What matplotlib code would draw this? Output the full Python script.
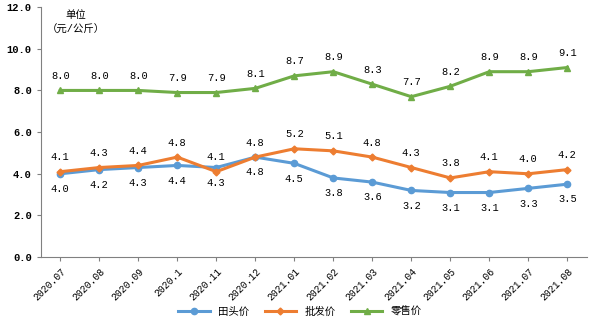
import numpy as np
import matplotlib as mpl
mpl.use('Agg')
import matplotlib.pyplot as plt

plt.rcParams['font.family'] = ['Liberation Mono', 'Noto Sans CJK SC', 'DejaVu Sans']

months = ['2020.07', '2020.08', '2020.09', '2020.1', '2020.11', '2020.12', '2021.01',
          '2021.02', '2021.03', '2021.04', '2021.05', '2021.06', '2021.07', '2021.08']
farm = [4.0, 4.2, 4.3, 4.4, 4.3, 4.8, 4.5, 3.8, 3.6, 3.2, 3.1, 3.1, 3.3, 3.5]
wholesale = [4.1, 4.3, 4.4, 4.8, 4.1, 4.8, 5.2, 5.1, 4.8, 4.3, 3.8, 4.1, 4.0, 4.2]
retail = [8.0, 8.0, 8.0, 7.9, 7.9, 8.1, 8.7, 8.9, 8.3, 7.7, 8.2, 8.9, 8.9, 9.1]
names = ['田头价', '批发价', '零售价']

xs = np.arange(len(months))

fig = plt.figure(figsize=(6, 3.23), dpi=100)
ax = fig.add_axes([0.068, 0.204, 0.91, 0.774])

series = [(farm, '#5B9BD5', 'o', 4.5, -11),
          (wholesale, '#ED7D31', 'D', 3.5, 10.5),
          (retail, '#70AD47', '^', 5, 10.5)]
for (ys, c, m, ms, off), name in zip(series, names):
    ax.plot(xs, ys, color=c, lw=2.2, marker=m, ms=ms, label=name)
    for x, y in zip(xs, ys):
        ax.annotate('%.1f' % y, (x, y), xytext=(0, off), textcoords='offset points',
                    ha='center', va='center', fontsize=7.5)

ax.set_xlim(-0.5, len(months) - 0.5)
ax.set_ylim(0, 12)
ax.set_yticks(np.arange(0, 12.1, 2))
ax.set_yticklabels(['%.1f' % v for v in np.arange(0, 12.1, 2)], fontsize=7.5,
                   fontweight='bold')
ax.set_xticks(xs)
ax.set_xticklabels(months, rotation=45, ha='right', rotation_mode='anchor', fontsize=7)
for s in ['top', 'right']:
    ax.spines[s].set_visible(False)
for s in ['left', 'bottom']:
    ax.spines[s].set_color('#808080')
ax.tick_params(colors='black', length=3, width=0.8)
ax.tick_params(axis='both', color='#808080')

ax.text(0.4, 11.6, '单位', ha='center', va='center', fontsize=7.5)
ax.text(0.4, 10.9, '（元/公斤）', ha='center', va='center', fontsize=7.5)

fig.legend(loc='lower center', bbox_to_anchor=(0.5, -0.01), ncol=3, frameon=False,
           fontsize=7.5, handlelength=3, columnspacing=1.5)

plt.savefig('out.png', dpi=100)
